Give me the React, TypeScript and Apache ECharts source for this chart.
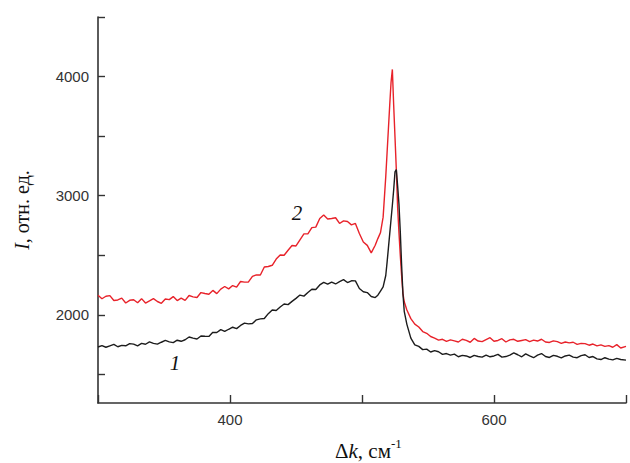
import React, { useEffect, useRef } from "react";
import * as echarts from "echarts";

// Raman shift, cm^-1
const waveNumbers = [
  300, 303, 306, 309, 312, 315, 318, 321, 324, 327, 330, 333, 336, 339, 342, 345, 348, 351, 354, 357,
  360, 363, 366, 369, 372, 375, 378, 381, 384, 387, 390, 393, 396, 399, 402, 405, 408, 411, 414, 417,
  420, 423, 426, 429, 432, 435, 438, 441, 444, 447, 450, 453, 456, 459, 462, 465, 468, 471, 474, 477,
  480, 483, 486, 489, 492, 495, 498, 501, 504, 507, 510,
  512, 514, 516, 518, 519, 520, 521, 522, 523, 524, 525, 526, 527, 528, 529, 530, 531, 532,
  534, 537, 540, 543, 546, 549, 552, 555, 558, 561, 564, 567, 570, 573, 576, 579, 582, 585, 588, 591,
  594, 597, 600, 603, 606, 609, 612, 615, 618, 621, 624, 627, 630, 633, 636, 639, 642, 645, 648, 651,
  654, 657, 660, 663, 666, 669, 672, 675, 678, 681, 684, 687, 690, 693, 696, 700,
];

// Curve 1 (black)
const intensity1 = [
  1730, 1742, 1728, 1740, 1752, 1732, 1744, 1740, 1758, 1754, 1740, 1760, 1753, 1773, 1760, 1754, 1770, 1785, 1773, 1767,
  1787, 1778, 1791, 1814, 1805, 1797, 1822, 1820, 1819, 1853, 1852, 1876, 1861, 1879, 1896, 1884, 1911, 1930, 1924, 1927,
  1958, 1966, 1969, 2010, 2041, 2037, 2066, 2091, 2086, 2113, 2138, 2166, 2157, 2187, 2215, 2213, 2251, 2273, 2257, 2275,
  2259, 2279, 2296, 2271, 2286, 2285, 2221, 2194, 2187, 2154, 2145,
  2165, 2200, 2235, 2330, 2440, 2560, 2680, 2800, 2920, 3050, 3200, 3220, 3080, 2930, 2700, 2420, 2180, 2030,
  1920, 1805, 1748, 1735, 1708, 1712, 1688, 1700, 1690, 1668, 1675, 1662, 1670, 1648, 1660, 1655, 1642, 1660, 1650, 1645,
  1662, 1648, 1655, 1668, 1645, 1650, 1662, 1680, 1665, 1648, 1672, 1655, 1640, 1662, 1675, 1650, 1642, 1660, 1652, 1638,
  1655, 1662, 1645, 1640, 1658, 1665, 1642, 1650, 1630, 1625, 1640, 1628, 1622, 1635, 1625, 1620,
];

// Curve 2 (red)
const intensity2 = [
  2165, 2135, 2156, 2161, 2120, 2125, 2140, 2099, 2122, 2127, 2102, 2136, 2099, 2117, 2136, 2112, 2097, 2133, 2128, 2153,
  2120, 2141, 2121, 2162, 2151, 2146, 2187, 2179, 2173, 2205, 2178, 2216, 2238, 2218, 2246, 2233, 2280, 2275, 2276, 2323,
  2335, 2334, 2402, 2406, 2416, 2468, 2502, 2500, 2542, 2582, 2578, 2630, 2680, 2680, 2732, 2736, 2808, 2838, 2805, 2809,
  2815, 2767, 2789, 2783, 2755, 2767, 2683, 2611, 2583, 2520, 2584,
  2640, 2690, 2820, 3160, 3360, 3560, 3760, 3950, 4060, 3760, 3490, 3220, 2900, 2690, 2500, 2330, 2180, 2110,
  2040, 1968, 1922, 1898, 1860, 1845, 1818, 1805, 1788, 1795, 1778, 1790, 1782, 1772, 1795, 1785, 1770, 1802, 1780, 1775,
  1792, 1808, 1778, 1785, 1800, 1772, 1790, 1795, 1778, 1785, 1792, 1775, 1788, 1780, 1795, 1772, 1768, 1782, 1775, 1760,
  1772, 1765, 1770, 1752, 1760, 1758, 1745, 1755, 1740, 1748, 1735, 1742, 1728, 1750, 1722, 1735,
];

const yTickValues = [1500, 2000, 2500, 3000, 3500, 4000, 4500];
const yLabelValues = [2000, 3000, 4000];
const xTickValues = [300, 400, 500, 600, 700];
const xLabelValues = [400, 600];

const serif = "'Liberation Serif', 'Times New Roman', serif";
const sans = "'Liberation Sans', Arial, sans-serif";
const axisColor = "#333";

export default function App() {
  const ref = useRef<HTMLDivElement>(null);

  useEffect(() => {
    if (!ref.current) return;
    const chart = echarts.init(ref.current, undefined, { renderer: "svg" });
    const pairs = (ys: number[]) => waveNumbers.map((x, i) => [x, ys[i]]);
    const plain = (v: number) => String(v);

    chart.setOption({
      animation: false,
      backgroundColor: "#fff",
      grid: { left: 98, right: 4, top: 17, bottom: 60 },
      xAxis: {
        type: "value",
        min: 300,
        max: 700,
        axisLine: { onZero: false, lineStyle: { color: axisColor, width: 1.6 } },
        axisTick: { inside: true, length: 8, customValues: xTickValues, lineStyle: { color: axisColor, width: 1.4 } },
        axisLabel: { customValues: xLabelValues, formatter: plain, color: axisColor, fontSize: 15, fontFamily: sans, margin: 9 },
        splitLine: { show: false },
      },
      yAxis: {
        type: "value",
        min: 1260,
        max: 4500,
        axisLine: { show: true, lineStyle: { color: axisColor, width: 1.6 } },
        axisTick: { show: true, inside: true, length: 7, customValues: yTickValues, lineStyle: { color: axisColor, width: 1.4 } },
        axisLabel: { customValues: yLabelValues, formatter: plain, color: axisColor, fontSize: 15, fontFamily: sans, margin: 9 },
        splitLine: { show: false },
      },
      series: [
        {
          name: "1",
          type: "line",
          data: pairs(intensity1),
          showSymbol: false,
          lineStyle: { color: "#1c1c1c", width: 1.4 },
          z: 3,
        },
        {
          name: "2",
          type: "line",
          data: pairs(intensity2),
          showSymbol: false,
          lineStyle: { color: "#e8222a", width: 1.4 },
          z: 2,
        },
      ],
      graphic: [
        {
          type: "text",
          x: 22,
          y: 210,
          rotation: Math.PI / 2,
          style: {
            text: "{i|I}, отн. ед.",
            fontSize: 20,
            fontFamily: serif,
            fill: "#111",
            align: "center",
            verticalAlign: "middle",
            rich: {
              i: { fontStyle: "italic", fontSize: 20, fontFamily: serif, fill: "#111" },
            },
          },
        },
        {
          type: "text",
          x: 335,
          y: 451,
          style: {
            text: "Δ{i|k}, см",
            fontSize: 21,
            fontFamily: serif,
            fill: "#111",
            align: "left",
            verticalAlign: "middle",
            rich: {
              i: { fontStyle: "italic", fontSize: 21, fontFamily: serif, fill: "#111" },
            },
          },
        },
        {
          type: "text",
          x: 391,
          y: 443,
          style: { text: "-1", fontSize: 13, fontFamily: serif, fill: "#111", align: "left", verticalAlign: "middle" },
        },
        {
          type: "text",
          x: 297,
          y: 213,
          style: { text: "2", fontSize: 21, fontStyle: "italic", fontFamily: serif, fill: "#111", align: "center", verticalAlign: "middle" },
        },
        {
          type: "text",
          x: 175,
          y: 363,
          style: { text: "1", fontSize: 21, fontStyle: "italic", fontFamily: serif, fill: "#111", align: "center", verticalAlign: "middle" },
        },
      ],
    });

    return () => chart.dispose();
  }, []);

  return <div ref={ref} style={{ position: "fixed", left: 0, top: 0, width: 630, height: 463 }} />;
}
